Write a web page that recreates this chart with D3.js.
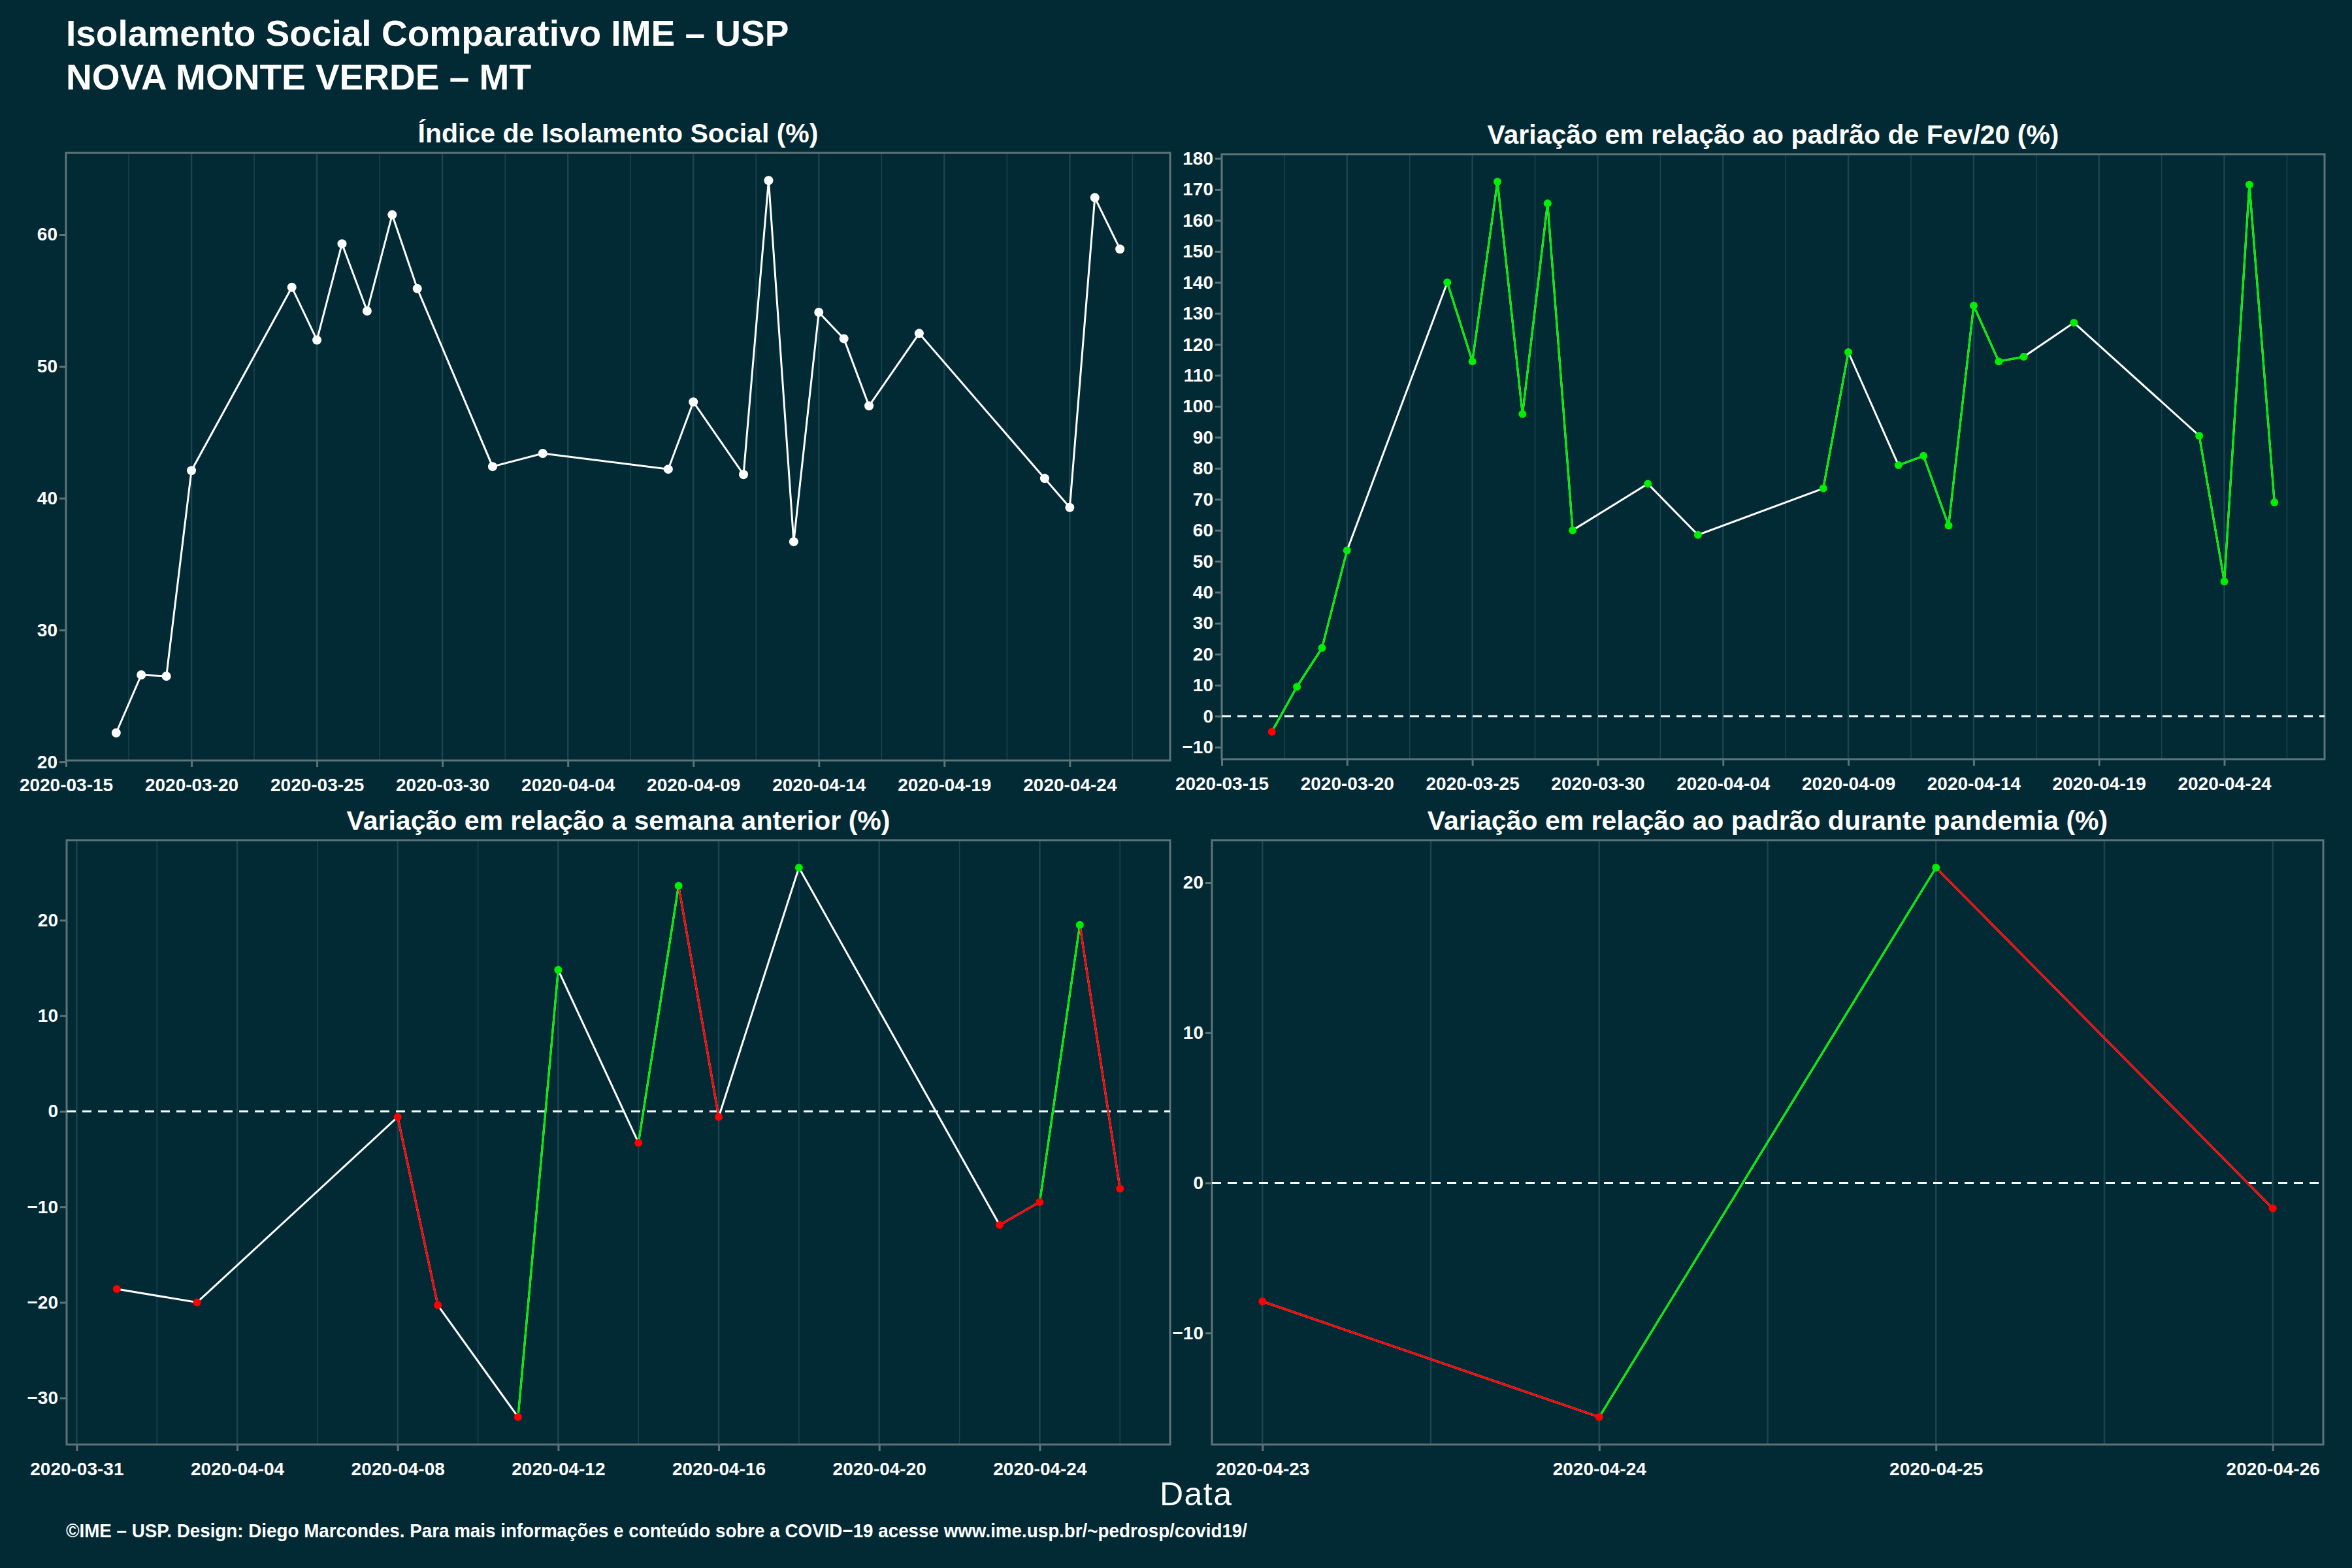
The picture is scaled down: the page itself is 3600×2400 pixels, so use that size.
<!DOCTYPE html>
<html><head><meta charset="utf-8">
<script src="https://cdn.jsdelivr.net/npm/d3@7"></script>
<style>body{margin:0;background:#022a35}</style></head>
<body><svg id="c" width="3600" height="2400"></svg>
<script>
const datesA = ["2020-03-17","2020-03-18","2020-03-19","2020-03-20","2020-03-24","2020-03-25","2020-03-26","2020-03-27","2020-03-28","2020-03-29","2020-04-01","2020-04-03","2020-04-08","2020-04-09","2020-04-11","2020-04-12","2020-04-13","2020-04-14","2020-04-15","2020-04-16","2020-04-18","2020-04-23","2020-04-24","2020-04-25","2020-04-26"];
const isolamento = [22.2,26.6,26.5,42.1,56.0,52.0,59.3,54.2,61.5,55.9,42.4,43.4,42.2,47.3,41.8,64.1,36.7,54.1,52.1,47.0,52.5,41.5,39.3,62.8,58.9];
const varFev = [-5,9.5,22,53.5,140,114.5,172.5,97.5,165.5,60,75,58.5,73.5,117.5,81,84,61.5,132.5,114.5,116,127,90.5,43.5,171.5,69];
const datesS = ["2020-04-01","2020-04-03","2020-04-08","2020-04-09","2020-04-11","2020-04-12","2020-04-14","2020-04-15","2020-04-16","2020-04-18","2020-04-23","2020-04-24","2020-04-25","2020-04-26"];
const varSemana = [-18.6,-20,-0.6,-20.3,-32,14.8,-3.3,23.6,-0.6,25.5,-11.9,-9.5,19.5,-8.1];
const datesP = ["2020-04-23","2020-04-24","2020-04-25","2020-04-26"];
const varPand = [-7.9,-15.6,21,-1.7];
const ticksA = ["2020-03-15","2020-03-20","2020-03-25","2020-03-30","2020-04-04","2020-04-09","2020-04-14","2020-04-19","2020-04-24"];
const ticksS = ["2020-03-31","2020-04-04","2020-04-08","2020-04-12","2020-04-16","2020-04-20","2020-04-24"];
const ticksP = ["2020-04-23","2020-04-24","2020-04-25","2020-04-26"];

const P = d3.timeParse("%Y-%m-%d");
const DAY = 864e5;
const svg = d3.select("#c");
const FONT = "'Liberation Sans',Arial,sans-serif";
const GREEN="#00ee00", RED="#ff0000", WHITE="#ffffff";

svg.append("text").attr("x",101).attr("y",70).attr("fill","#fff").attr("font-family",FONT).attr("font-weight","bold").attr("font-size",55).text("Isolamento Social Comparativo IME – USP");
svg.append("text").attr("x",101).attr("y",137).attr("fill","#fff").attr("font-family",FONT).attr("font-weight","bold").attr("font-size",55).text("NOVA MONTE VERDE – MT");

function panel(o){
  const {x0,x1,y0,y1,dates,vals,ticks,yticks,title,colored,ref,minorStep,majorStep}=o;
  const ds=dates.map(P);
  const dmin=d3.min(ds), dmax=d3.max(ds), span=dmax-dmin;
  const x=d3.scaleTime().domain([new Date(+dmin-span*0.05),new Date(+dmax+span*0.05)]).range([x0,x1]);
  const vmin=d3.min(vals), vmax=d3.max(vals), vs=vmax-vmin;
  const y=d3.scaleLinear().domain([vmin-vs*0.05,vmax+vs*0.05]).range([y1,y0]);
  const g=svg.append("g");
  g.append("text").attr("x",(x0+x1)/2).attr("y",y0-16).attr("text-anchor","middle").attr("fill","#fff").attr("font-family",FONT).attr("font-weight","bold").attr("font-size",41).text(title);
  const t0=P(ticks[0]);
  const grid=[];
  for(let t=+t0-majorStep*DAY*3; t<=+x.domain()[1]; t+=minorStep*DAY){ if(t>=+x.domain()[0]) grid.push(new Date(t)); }
  g.selectAll(".gr").data(grid).enter().append("line").attr("x1",d=>x(d)).attr("x2",d=>x(d)).attr("y1",y0).attr("y2",y1).attr("stroke","#1c4450").attr("stroke-width",d=>((Math.round((d-t0)/DAY))%majorStep===0)?2.5:1.5);
  g.append("rect").attr("x",x0).attr("y",y0).attr("width",x1-x0).attr("height",y1-y0).attr("fill","none").attr("stroke","#5d7377").attr("stroke-width",3);
  const ax=g.append("g").attr("transform",`translate(0,${y1})`).call(d3.axisBottom(x).tickValues(ticks.map(P)).tickFormat(d3.timeFormat("%Y-%m-%d")).tickSize(10).tickSizeOuter(0));
  const ay=g.append("g").attr("transform",`translate(${x0},0)`).call(d3.axisLeft(y).tickValues(yticks).tickFormat(d=>d<0?"−"+(-d):d).tickSize(10).tickSizeOuter(0));
  [ax,ay].forEach(a=>{a.select(".domain").remove();a.selectAll("line").attr("stroke","#5d7377").attr("stroke-width",3);a.selectAll("text").attr("fill","#fff").attr("font-family",FONT).attr("font-weight","bold").attr("font-size",28);});
  ax.selectAll("text").attr("dy","1.2em");
  if(ref) g.append("line").attr("x1",x0).attr("x2",x1).attr("y1",y(0)).attr("y2",y(0)).attr("stroke","#fff").attr("stroke-width",3).attr("stroke-dasharray","14,10");
  const pts=ds.map((d,i)=>({d,v:vals[i]}));
  const line=d3.line().x(p=>x(p.d)).y(p=>y(p.v));
  g.append("path").attr("d",line(pts)).attr("fill","none").attr("stroke","#fff").attr("stroke-width",3);
  if(colored){
    for(let i=1;i<pts.length;i++){
      if(Math.round((pts[i].d-pts[i-1].d)/DAY)===1){
        g.append("path").attr("d",line([pts[i-1],pts[i]])).attr("fill","none").attr("stroke",pts[i].v>=0?GREEN:RED).attr("stroke-width",3);
      }
    }
  }
  g.selectAll(".pt").data(pts).enter().append("circle").attr("cx",p=>x(p.d)).attr("cy",p=>y(p.v)).attr("r",colored?6:7).attr("fill",p=>!colored?WHITE:(p.v>=0?GREEN:RED));
}
panel({x0:101,x1:1791,y0:234,y1:1164,dates:datesA,vals:isolamento,ticks:ticksA,yticks:[20,30,40,50,60],title:"Índice de Isolamento Social (%)",colored:false,ref:false,minorStep:2.5,majorStep:5});
panel({x0:1870,x1:3558,y0:236,y1:1162,dates:datesA,vals:varFev,ticks:ticksA,yticks:d3.range(-10,181,10),title:"Variação em relação ao padrão de Fev/20 (%)",colored:true,ref:true,minorStep:2.5,majorStep:5});
panel({x0:102,x1:1791,y0:1286,y1:2211,dates:datesS,vals:varSemana,ticks:ticksS,yticks:[-30,-20,-10,0,10,20],title:"Variação em relação a semana anterior (%)",colored:true,ref:true,minorStep:2,majorStep:4});
panel({x0:1855,x1:3556,y0:1286,y1:2211,dates:datesP,vals:varPand,ticks:ticksP,yticks:[-10,0,10,20],title:"Variação em relação ao padrão durante pandemia (%)",colored:true,ref:true,minorStep:0.5,majorStep:1});

svg.append("text").attr("x",1830).attr("y",2304).attr("text-anchor","middle").attr("fill","#fff").attr("font-family",FONT).attr("font-size",50).attr("textLength",110).text("Data");
svg.append("text").attr("x",101).attr("y",2353).attr("fill","#fff").attr("font-family",FONT).attr("font-weight","bold").attr("font-size",29).attr("textLength",1808).attr("lengthAdjust","spacingAndGlyphs").text("©IME – USP. Design: Diego Marcondes. Para mais informações e conteúdo sobre a COVID−19 acesse www.ime.usp.br/~pedrosp/covid19/");
</script></body></html>
